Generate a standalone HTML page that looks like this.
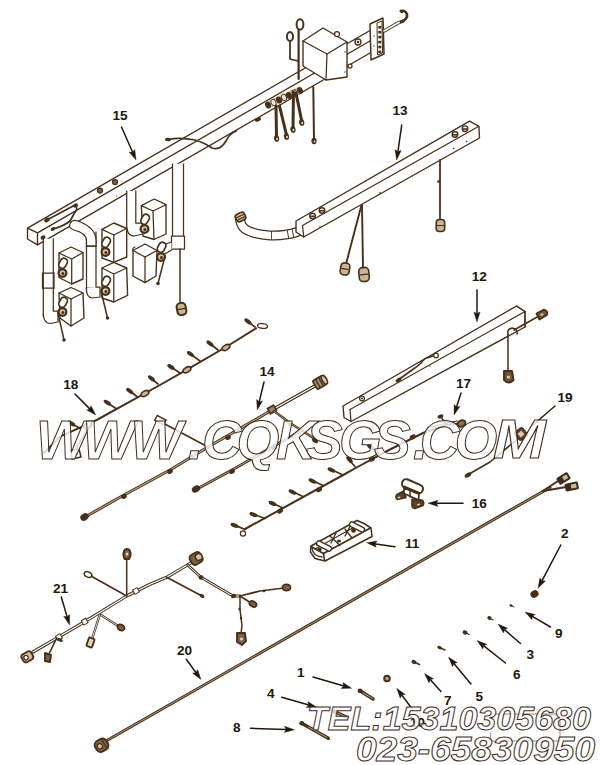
<!DOCTYPE html>
<html><head><meta charset="utf-8"><style>
html,body{margin:0;padding:0;background:#fff;width:600px;height:765px;overflow:hidden}
svg text{font-family:"Liberation Sans",sans-serif}
</style></head><body>
<svg width="600" height="765" viewBox="0 0 600 765" style="position:absolute;left:0;top:0">
<rect width="600" height="765" fill="#fff"/>
<polygon points="27.5,228.1 370,30.5 370,53 37.5,244.9 27.5,239" fill="#fff" stroke="none" stroke-width="0" stroke-linejoin="round"/>
<line x1="27.5" y1="228.1" x2="370" y2="30.5" stroke="#46301a" stroke-width="1.375" stroke-linecap="round"/>
<line x1="37.5" y1="232.9" x2="370" y2="41" stroke="#46301a" stroke-width="1.375" stroke-linecap="round"/>
<line x1="37.5" y1="244.9" x2="370" y2="53" stroke="#46301a" stroke-width="1.375" stroke-linecap="round"/>
<polygon points="27.5,228.1 37.5,232.9 37.5,244.9 27.5,239" fill="#fff" stroke="#46301a" stroke-width="1.375" stroke-linejoin="round"/>
<polygon points="43.3,238.8 53.3,238.8 53.3,316 43.3,316" fill="#fff" stroke="none" stroke-width="0" stroke-linejoin="round"/>
<line x1="43.3" y1="238.8" x2="43.3" y2="316" stroke="#46301a" stroke-width="1.25" stroke-linecap="round"/>
<line x1="53.3" y1="238.8" x2="53.3" y2="316" stroke="#46301a" stroke-width="1.25" stroke-linecap="round"/>
<line x1="42.5" y1="273" x2="54" y2="273" stroke="#46301a" stroke-width="1.25" stroke-linecap="round"/>
<line x1="42.5" y1="288" x2="54" y2="288" stroke="#46301a" stroke-width="1.25" stroke-linecap="round"/>
<line x1="42.5" y1="273" x2="42.5" y2="288" stroke="#46301a" stroke-width="1.25" stroke-linecap="round"/>
<line x1="54" y1="273" x2="54" y2="288" stroke="#46301a" stroke-width="1.25" stroke-linecap="round"/>
<path d="M43.3,314 Q43.5,323 50,323.5 L58,322 L58,311 L53.3,311" fill="#fff" stroke="#46301a" stroke-width="1.25" stroke-linejoin="round" stroke-linecap="round"/>
<polygon points="86.5,232 96,232 96,292 86.5,292" fill="#fff" stroke="none" stroke-width="0" stroke-linejoin="round"/>
<line x1="86.5" y1="232" x2="86.5" y2="292" stroke="#46301a" stroke-width="1.25" stroke-linecap="round"/>
<line x1="96" y1="232" x2="96" y2="292" stroke="#46301a" stroke-width="1.25" stroke-linecap="round"/>
<path d="M70,224 Q72,219 78,221 Q96,228 96,240 L96,246 L86.5,246 L86.5,240 Q86,233 74,230 Q68,228 70,224 Z" fill="#fff" stroke="#46301a" stroke-width="1.25" stroke-linejoin="round" stroke-linecap="round"/>
<line x1="86" y1="246" x2="96.5" y2="246" stroke="#46301a" stroke-width="1.25" stroke-linecap="round"/>
<line x1="86" y1="288" x2="96.5" y2="288" stroke="#46301a" stroke-width="1.25" stroke-linecap="round"/>
<path d="M86.5,288 Q86,297 92,298 L100,297 L100,287 L96,287" fill="#fff" stroke="#46301a" stroke-width="1.25" stroke-linejoin="round" stroke-linecap="round"/>
<polygon points="126.7,190.9 135.8,190.9 135.8,228 126.7,228" fill="#fff" stroke="none" stroke-width="0" stroke-linejoin="round"/>
<line x1="126.7" y1="190.9" x2="126.7" y2="228" stroke="#46301a" stroke-width="1.25" stroke-linecap="round"/>
<line x1="135.8" y1="190.9" x2="135.8" y2="228" stroke="#46301a" stroke-width="1.25" stroke-linecap="round"/>
<path d="M126.7,226 Q127,236 134,236 L143,234 L143,223 L135.8,223" fill="#fff" stroke="#46301a" stroke-width="1.25" stroke-linejoin="round" stroke-linecap="round"/>
<polygon points="172.5,163.8 183.5,163.8 183.5,240 172.5,240" fill="#fff" stroke="none" stroke-width="0" stroke-linejoin="round"/>
<line x1="172.5" y1="163.8" x2="172.5" y2="240" stroke="#46301a" stroke-width="1.25" stroke-linecap="round"/>
<line x1="183.5" y1="163.8" x2="183.5" y2="240" stroke="#46301a" stroke-width="1.25" stroke-linecap="round"/>
<path d="M171.5,236 L184.5,236 L184.5,249 L171.5,249 Z" fill="#fff" stroke="#46301a" stroke-width="1.25" stroke-linejoin="round" stroke-linecap="round"/>
<path d="M171.5,242 L160,246 L160,257 L171.5,250" fill="#fff" stroke="#46301a" stroke-width="1.25" stroke-linejoin="round" stroke-linecap="round"/>
<polygon points="59,253 71,247 83,252.5 83,279 71.7,284 59,277.5" fill="#fff" stroke="#46301a" stroke-width="1.375" stroke-linejoin="round"/>
<polyline points="59,253 71.7,259 83,252.5" fill="none" stroke="#46301a" stroke-width="1.25" stroke-linejoin="round" stroke-linecap="round"/>
<line x1="71.7" y1="259" x2="71.7" y2="284" stroke="#46301a" stroke-width="1.25" stroke-linecap="round"/>
<rect x="59.5" y="258" width="7" height="10.5" rx="3.5" transform="rotate(28 63 263.5)" fill="#fff" stroke="#46301a" stroke-width="1.7"/>
<circle cx="62.5" cy="273" r="3.9" fill="#d6c3a8" stroke="#46301a" stroke-width="2.2"/>
<circle cx="62.9" cy="273.4" r="1.5" fill="#46301a"/>
<polygon points="59,293 71,287.5 83,293 84,318 71,326 60,318" fill="#fff" stroke="#46301a" stroke-width="1.375" stroke-linejoin="round"/>
<polyline points="59,293 71,299 83,293" fill="none" stroke="#46301a" stroke-width="1.25" stroke-linejoin="round" stroke-linecap="round"/>
<line x1="71" y1="299" x2="71" y2="326" stroke="#46301a" stroke-width="1.25" stroke-linecap="round"/>
<rect x="59.5" y="297" width="7" height="10.5" rx="3.5" transform="rotate(28 63 302.5)" fill="#fff" stroke="#46301a" stroke-width="1.7"/>
<circle cx="62.5" cy="312" r="3.9" fill="#d6c3a8" stroke="#46301a" stroke-width="2.2"/>
<circle cx="62.9" cy="312.4" r="1.5" fill="#46301a"/>
<polygon points="141.3,205.6 154.2,199 166,204.7 166,234 154,239.5 143,236" fill="#fff" stroke="#46301a" stroke-width="1.375" stroke-linejoin="round"/>
<polyline points="141.3,205.6 153,211 166,204.7" fill="none" stroke="#46301a" stroke-width="1.25" stroke-linejoin="round" stroke-linecap="round"/>
<line x1="153" y1="211" x2="154" y2="239.5" stroke="#46301a" stroke-width="1.25" stroke-linecap="round"/>
<rect x="141.5" y="214" width="7" height="10.5" rx="3.5" transform="rotate(28 145 219.5)" fill="#fff" stroke="#46301a" stroke-width="1.7"/>
<circle cx="144.5" cy="229" r="3.9" fill="#d6c3a8" stroke="#46301a" stroke-width="2.2"/>
<circle cx="144.9" cy="229.4" r="1.5" fill="#46301a"/>
<polygon points="102,229.4 113.8,223 126.7,228.5 126.7,257 113.8,262.4 102,258" fill="#fff" stroke="#46301a" stroke-width="1.375" stroke-linejoin="round"/>
<polyline points="102,229.4 113.8,235 126.7,228.5" fill="none" stroke="#46301a" stroke-width="1.25" stroke-linejoin="round" stroke-linecap="round"/>
<line x1="113.8" y1="235" x2="113.8" y2="262.4" stroke="#46301a" stroke-width="1.25" stroke-linecap="round"/>
<rect x="102.5" y="237" width="7" height="10.5" rx="3.5" transform="rotate(28 106 242.5)" fill="#fff" stroke="#46301a" stroke-width="1.7"/>
<circle cx="105.5" cy="252" r="3.9" fill="#d6c3a8" stroke="#46301a" stroke-width="2.2"/>
<circle cx="105.9" cy="252.4" r="1.5" fill="#46301a"/>
<polygon points="102,268 113.8,262.4 126.7,268 127.6,295.4 113.8,302 102,298" fill="#fff" stroke="#46301a" stroke-width="1.375" stroke-linejoin="round"/>
<polyline points="102,268 113.8,274 126.7,268" fill="none" stroke="#46301a" stroke-width="1.25" stroke-linejoin="round" stroke-linecap="round"/>
<line x1="113.8" y1="274" x2="113.8" y2="302" stroke="#46301a" stroke-width="1.25" stroke-linecap="round"/>
<rect x="102.5" y="276" width="7" height="10.5" rx="3.5" transform="rotate(28 106 281.5)" fill="#fff" stroke="#46301a" stroke-width="1.7"/>
<circle cx="105.5" cy="291" r="3.9" fill="#d6c3a8" stroke="#46301a" stroke-width="2.2"/>
<circle cx="105.9" cy="291.4" r="1.5" fill="#46301a"/>
<polygon points="133,250.5 145,244 157,250.5 156,276 145,282.6 133,276" fill="#fff" stroke="#46301a" stroke-width="1.375" stroke-linejoin="round"/>
<path d="M133,250.5 Q132,248 135,247" fill="none" stroke="#46301a" stroke-width="1.25" stroke-linejoin="round" stroke-linecap="round"/>
<polyline points="133,250.5 145,257 157,250.5" fill="none" stroke="#46301a" stroke-width="1.25" stroke-linejoin="round" stroke-linecap="round"/>
<line x1="145" y1="257" x2="145" y2="282.6" stroke="#46301a" stroke-width="1.25" stroke-linecap="round"/>
<rect x="158" y="242" width="7" height="10.5" rx="3.5" transform="rotate(28 161.5 247.5)" fill="#fff" stroke="#46301a" stroke-width="1.7"/>
<circle cx="161" cy="257" r="3.9" fill="#d6c3a8" stroke="#46301a" stroke-width="2.2"/>
<circle cx="161.4" cy="257.4" r="1.5" fill="#46301a"/>
<polyline points="58,313 64,340" fill="none" stroke="#46301a" stroke-width="1.5" stroke-linejoin="round" stroke-linecap="round"/>
<ellipse cx="64" cy="340" rx="1.8" ry="1.8" transform="rotate(0 64 340)" fill="#46301a"/>
<polyline points="101,291 107.5,318" fill="none" stroke="#46301a" stroke-width="1.5" stroke-linejoin="round" stroke-linecap="round"/>
<ellipse cx="107.5" cy="318" rx="1.8" ry="1.8" transform="rotate(0 107.5 318)" fill="#46301a"/>
<polyline points="165,256 158,283.5" fill="none" stroke="#46301a" stroke-width="1.5" stroke-linejoin="round" stroke-linecap="round"/>
<ellipse cx="158" cy="283.5" rx="1.8" ry="1.8" transform="rotate(0 158 283.5)" fill="#46301a"/>
<polyline points="180,249 180,303" fill="none" stroke="#46301a" stroke-width="1.5" stroke-linejoin="round" stroke-linecap="round"/>
<g transform="rotate(-10 181.5 309)"><rect x="177" y="303" width="9" height="12" rx="3.5" fill="#c9b497" stroke="#46301a" stroke-width="2"/><line x1="177.8" y1="309" x2="185.2" y2="309" stroke="#46301a" stroke-width="1.1"/></g>
<polygon points="303,41 323,28 347,42 347,77 326,80 303,66" fill="#fff" stroke="#46301a" stroke-width="1.375" stroke-linejoin="round"/>
<polyline points="303,41 327,54 347,42" fill="none" stroke="#46301a" stroke-width="1.25" stroke-linejoin="round" stroke-linecap="round"/>
<line x1="327" y1="54" x2="326" y2="80" stroke="#46301a" stroke-width="1.25" stroke-linecap="round"/>
<circle cx="345" cy="52" r="0.7" fill="#46301a"/>
<circle cx="345" cy="72" r="0.7" fill="#46301a"/>
<circle cx="337" cy="34" r="2.5" fill="#fff" stroke="#46301a" stroke-width="1.25"/>
<polygon points="370,24 383,18 384,54 371,60" fill="#fff" stroke="#46301a" stroke-width="1.5" stroke-linejoin="round"/>
<polygon points="377,23 382,21 382.5,53 377.5,55" fill="#fff" stroke="#46301a" stroke-width="1.0" stroke-linejoin="round"/>
<rect x="378.3" y="26" width="3" height="2.6" fill="#46301a"/>
<rect x="378.3" y="30.9" width="3" height="2.6" fill="#46301a"/>
<rect x="378.3" y="35.8" width="3" height="2.6" fill="#46301a"/>
<rect x="378.3" y="40.8" width="3" height="2.6" fill="#46301a"/>
<rect x="378.3" y="45.7" width="3" height="2.6" fill="#46301a"/>
<rect x="378.3" y="50.6" width="3" height="2.6" fill="#46301a"/>
<circle cx="374" cy="36" r="0.7" fill="#46301a"/>
<circle cx="374" cy="46" r="0.7" fill="#46301a"/>
<polyline points="384,31 398,23 403,21" fill="none" stroke="#46301a" stroke-width="3.4" stroke-linejoin="round" stroke-linecap="round"/>
<polyline points="384,31 398,23 403,21" fill="none" stroke="#fff" stroke-width="1.6" stroke-linejoin="round" stroke-linecap="round"/>
<path d="M401,22 Q408,19 407,14 Q405,10 401,11" fill="none" stroke="#46301a" stroke-width="2.6" stroke-linejoin="round" stroke-linecap="round"/>
<ellipse cx="401.5" cy="11.5" rx="2" ry="1.5" transform="rotate(30 401.5 11.5)" fill="#46301a"/>
<circle cx="358" cy="42" r="3" fill="#fff" stroke="#46301a" stroke-width="1.375"/>
<circle cx="358" cy="42" r="1.2" fill="#46301a"/>
<circle cx="350" cy="66" r="2" fill="#fff" stroke="#46301a" stroke-width="1.25"/>
<line x1="298.6" y1="28" x2="298.6" y2="79" stroke="#46301a" stroke-width="2.2" stroke-linecap="round"/>
<ellipse cx="300" cy="24.5" rx="3.4" ry="5.2" fill="#fff" stroke="#46301a" stroke-width="2"/>
<ellipse cx="290" cy="36.5" rx="3" ry="4.6" fill="#fff" stroke="#46301a" stroke-width="2"/>
<polyline points="290,41 290,59 298,61" fill="none" stroke="#46301a" stroke-width="1.75" stroke-linejoin="round" stroke-linecap="round"/>
<polygon points="265,102 300,86 302,93 267,109" fill="#d9c7ae" stroke="none" stroke-width="0" stroke-linejoin="round"/>
<ellipse cx="268" cy="105" rx="2.8" ry="3.6" transform="rotate(-25 268 105)" fill="#46301a"/>
<ellipse cx="273.5" cy="102.5" rx="2.4" ry="3.2" transform="rotate(-25 273.5 102.5)" fill="#f1e6d6"/>
<ellipse cx="273.5" cy="102.5" rx="2.4" ry="3.2" transform="rotate(-25 273.5 102.5)" fill="none" stroke="#46301a" stroke-width="0.9"/>
<ellipse cx="279" cy="100" rx="2.8" ry="3.6" transform="rotate(-25 279 100)" fill="#46301a"/>
<ellipse cx="284" cy="97.5" rx="2.4" ry="3.2" transform="rotate(-25 284 97.5)" fill="#f1e6d6"/>
<ellipse cx="284" cy="97.5" rx="2.4" ry="3.2" transform="rotate(-25 284 97.5)" fill="none" stroke="#46301a" stroke-width="0.9"/>
<ellipse cx="289" cy="95.5" rx="2.8" ry="3.6" transform="rotate(-25 289 95.5)" fill="#46301a"/>
<ellipse cx="294.5" cy="93" rx="2.4" ry="3.2" transform="rotate(-25 294.5 93)" fill="#f1e6d6"/>
<ellipse cx="294.5" cy="93" rx="2.4" ry="3.2" transform="rotate(-25 294.5 93)" fill="none" stroke="#46301a" stroke-width="0.9"/>
<ellipse cx="300" cy="90.5" rx="2.8" ry="3.6" transform="rotate(-25 300 90.5)" fill="#46301a"/>
<polyline points="276,106 276.5,137" fill="none" stroke="#46301a" stroke-width="3.0" stroke-linejoin="round" stroke-linecap="round"/>
<polyline points="279.5,106 286.5,135" fill="none" stroke="#46301a" stroke-width="3.0" stroke-linejoin="round" stroke-linecap="round"/>
<polyline points="293.5,92 293,128" fill="none" stroke="#46301a" stroke-width="3.0" stroke-linejoin="round" stroke-linecap="round"/>
<polyline points="296,93 301.7,121" fill="none" stroke="#46301a" stroke-width="3.0" stroke-linejoin="round" stroke-linecap="round"/>
<ellipse cx="276.6" cy="138.5" rx="2.6" ry="3.4" transform="rotate(-10 276.6 138.5)" fill="#46301a"/>
<ellipse cx="277.1" cy="139" rx="0.9" ry="1.2" transform="rotate(-10 277.1 139)" fill="#e9dccb"/>
<ellipse cx="286.5" cy="136.5" rx="2.6" ry="3.4" transform="rotate(-10 286.5 136.5)" fill="#46301a"/>
<ellipse cx="287" cy="137" rx="0.9" ry="1.2" transform="rotate(-10 287 137)" fill="#e9dccb"/>
<ellipse cx="293" cy="129.5" rx="2.6" ry="3.4" transform="rotate(-10 293 129.5)" fill="#46301a"/>
<ellipse cx="293.5" cy="130" rx="0.9" ry="1.2" transform="rotate(-10 293.5 130)" fill="#e9dccb"/>
<ellipse cx="301.7" cy="122.5" rx="2.6" ry="3.4" transform="rotate(-10 301.7 122.5)" fill="#46301a"/>
<ellipse cx="302.2" cy="123" rx="0.9" ry="1.2" transform="rotate(-10 302.2 123)" fill="#e9dccb"/>
<line x1="313.3" y1="87" x2="314" y2="140" stroke="#46301a" stroke-width="2.0" stroke-linecap="round"/>
<ellipse cx="314" cy="141" rx="2.6" ry="3.2" transform="rotate(0 314 141)" fill="#46301a"/>
<ellipse cx="314.5" cy="141.5" rx="0.9" ry="1.1" transform="rotate(0 314.5 141.5)" fill="#e9dccb"/>
<ellipse cx="258" cy="119.5" rx="3.2" ry="1.8" transform="rotate(-25 258 119.5)" fill="#46301a"/>
<path d="M168,139.5 Q180,137 195,140 Q205,143 212,148 Q220,151 226,141 Q229,134 236,131" fill="none" stroke="#46301a" stroke-width="1.75" stroke-linejoin="round" stroke-linecap="round"/>
<ellipse cx="168" cy="139.5" rx="3" ry="1.8" transform="rotate(5 168 139.5)" fill="#46301a"/>
<circle cx="100" cy="190.5" r="2.5" fill="#7a6248" stroke="#46301a" stroke-width="1.25"/>
<circle cx="115" cy="182" r="2.5" fill="#7a6248" stroke="#46301a" stroke-width="1.25"/>
<circle cx="116.7" cy="196" r="0.6" fill="#46301a"/>
<path d="M47,220 L75,205 Q79,208 74,214 L70,221 Q64,226 53,229" fill="none" stroke="#46301a" stroke-width="1.75" stroke-linejoin="round" stroke-linecap="round"/>
<ellipse cx="47" cy="220" rx="3" ry="2" transform="rotate(-28 47 220)" fill="#46301a"/>
<ellipse cx="75.5" cy="205.5" rx="2.6" ry="2" transform="rotate(-28 75.5 205.5)" fill="#46301a"/>
<ellipse cx="53" cy="229" rx="2.4" ry="1.8" transform="rotate(-28 53 229)" fill="#46301a"/>
<ellipse cx="43" cy="237.5" rx="2.6" ry="2" transform="rotate(-28 43 237.5)" fill="#46301a"/>
<path d="M297,232 Q285,236 270,235.5 Q252,234 245,229 Q240,225 240,218" fill="none" stroke="#46301a" stroke-width="10" stroke-linejoin="round" stroke-linecap="round"/>
<path d="M297,232 Q285,236 270,235.5 Q252,234 245,229 Q240,225 240,218" fill="none" stroke="#fff" stroke-width="7.6" stroke-linejoin="round" stroke-linecap="round"/>
<line x1="288" y1="230.3" x2="288" y2="238.7" stroke="#46301a" stroke-width="0.9" transform="rotate(-10 288 234.5)"/>
<line x1="271.5" y1="231.3" x2="271.5" y2="239.7" stroke="#46301a" stroke-width="0.9" transform="rotate(0 271.5 235.5)"/>
<line x1="293" y1="229.3" x2="293" y2="237.7" stroke="#46301a" stroke-width="0.9" transform="rotate(-10 293 233.5)"/>
<g transform="rotate(-25 240.5 217)"><rect x="235.5" y="213" width="10" height="8" rx="3" fill="#cdb89c" stroke="#46301a" stroke-width="1.6"/><line x1="236" y1="216" x2="245" y2="216" stroke="#46301a" stroke-width="1.2"/><line x1="236" y1="218.5" x2="245" y2="218.5" stroke="#46301a" stroke-width="1.2"/></g>
<polygon points="296,221 469.6,121.1 478.9,126.3 479.5,138 303.7,237 296,232" fill="#fff" stroke="#46301a" stroke-width="1.375" stroke-linejoin="round"/>
<line x1="302.5" y1="225.5" x2="478.9" y2="126.3" stroke="#46301a" stroke-width="1.25" stroke-linecap="round"/>
<line x1="302.5" y1="225.5" x2="303.7" y2="237" stroke="#46301a" stroke-width="1.25" stroke-linecap="round"/>
<circle cx="312.5" cy="216" r="2.8" fill="#fff" stroke="#46301a" stroke-width="1.375"/>
<path d="M310.3,216.3 h4.4" stroke="#46301a" stroke-width="1.6"/>
<circle cx="322" cy="210.5" r="2.8" fill="#fff" stroke="#46301a" stroke-width="1.375"/>
<path d="M319.8,210.8 h4.4" stroke="#46301a" stroke-width="1.6"/>
<circle cx="455" cy="134.5" r="2.8" fill="#fff" stroke="#46301a" stroke-width="1.375"/>
<path d="M452.8,134.8 h4.4" stroke="#46301a" stroke-width="1.6"/>
<circle cx="465" cy="128.7" r="2.8" fill="#fff" stroke="#46301a" stroke-width="1.375"/>
<path d="M462.8,129 h4.4" stroke="#46301a" stroke-width="1.6"/>
<circle cx="453.8" cy="148.5" r="0.8" fill="#46301a"/>
<circle cx="466.7" cy="141.5" r="0.8" fill="#46301a"/>
<circle cx="380" cy="192.7" r="0.8" fill="#46301a"/>
<circle cx="320" cy="227" r="0.8" fill="#46301a"/>
<polyline points="440,160 440,220" fill="none" stroke="#46301a" stroke-width="1.8" stroke-linejoin="round" stroke-linecap="round"/>
<ellipse cx="439" cy="181.5" rx="1.8" ry="1.3" transform="rotate(0 439 181.5)" fill="#46301a"/>
<g transform="rotate(0 440.5 225.5)"><rect x="436.2" y="219.5" width="8.5" height="12" rx="3.3" fill="#c9b497" stroke="#46301a" stroke-width="1.6"/><line x1="437.1" y1="225.5" x2="443.9" y2="225.5" stroke="#46301a" stroke-width="1.1"/></g>
<polyline points="361.5,205 346,264" fill="none" stroke="#46301a" stroke-width="1.9" stroke-linejoin="round" stroke-linecap="round"/>
<polyline points="362,205 363,268" fill="none" stroke="#46301a" stroke-width="1.9" stroke-linejoin="round" stroke-linecap="round"/>
<g transform="rotate(10 345 269)"><rect x="340.5" y="263" width="9" height="12" rx="3.5" fill="#c9b497" stroke="#46301a" stroke-width="1.6"/><line x1="341.3" y1="269" x2="348.7" y2="269" stroke="#46301a" stroke-width="1.1"/></g>
<g transform="rotate(-5 364 274.5)"><rect x="359" y="267.5" width="10" height="14" rx="3.8" fill="#c9b497" stroke="#46301a" stroke-width="1.6"/><line x1="359.8" y1="274.5" x2="368.2" y2="274.5" stroke="#46301a" stroke-width="1.1"/></g>
<polygon points="343,406 516.5,306 525,311.5 525,327 351,421.5 344,417.5" fill="#fff" stroke="#46301a" stroke-width="1.375" stroke-linejoin="round"/>
<line x1="350" y1="409.5" x2="525" y2="311.5" stroke="#46301a" stroke-width="1.25" stroke-linecap="round"/>
<line x1="350" y1="409.5" x2="351" y2="421.5" stroke="#46301a" stroke-width="1.25" stroke-linecap="round"/>
<line x1="516.5" y1="306" x2="525" y2="311.5" stroke="#46301a" stroke-width="1.25" stroke-linecap="round"/>
<line x1="525" y1="311.5" x2="525" y2="327" stroke="#46301a" stroke-width="1.25" stroke-linecap="round"/>
<circle cx="362" cy="398.5" r="2.4" fill="#fff" stroke="#46301a" stroke-width="1.25"/>
<circle cx="362" cy="398.5" r="1" fill="#46301a"/>
<path d="M398,380 L412,370 Q418,366 421,363 Q424,358 430,357 L436,355" fill="none" stroke="#46301a" stroke-width="1.75" stroke-linejoin="round" stroke-linecap="round"/>
<ellipse cx="398.5" cy="380" rx="3.2" ry="1.8" transform="rotate(-35 398.5 380)" fill="#46301a"/>
<circle cx="436" cy="355.5" r="2.3" fill="#fff" stroke="#46301a" stroke-width="1.25"/>
<circle cx="430" cy="366" r="0.7" fill="#46301a"/>
<path d="M508,334 Q507,329 512,328 Q518,329 517,334" fill="none" stroke="#46301a" stroke-width="1.5" stroke-linejoin="round" stroke-linecap="round"/>
<line x1="514" y1="330" x2="539" y2="316" stroke="#46301a" stroke-width="1.625" stroke-linecap="round"/>
<path d="M536.5,313.5 L544,309.5 Q548.5,311 547,315 L539.5,319.5 Z" fill="#6e5538" stroke="#46301a" stroke-width="1.8" stroke-linejoin="round" stroke-linecap="round"/>
<ellipse cx="542" cy="314.5" rx="1.6" ry="1.1" transform="rotate(-30 542 314.5)" fill="#d9c7ae"/>
<line x1="508" y1="334" x2="508" y2="372" stroke="#46301a" stroke-width="1.5" stroke-linecap="round"/>
<path d="M504,371 L512,371 L513.5,380 Q509,385 504,380 Z" fill="#6e5538" stroke="#46301a" stroke-width="1.9" stroke-linejoin="round" stroke-linecap="round"/>
<ellipse cx="508.5" cy="377" rx="1.8" ry="1.6" transform="rotate(0 508.5 377)" fill="#d9c7ae"/>
<polyline points="256,328.4 226,347 187,369.6 160,385 96.7,420 60,436.7 44,453" fill="none" stroke="#46301a" stroke-width="2.0" stroke-linejoin="round" stroke-linecap="round"/>
<ellipse cx="262.5" cy="326" rx="5" ry="2.3" transform="rotate(8 262.5 326)" fill="#fff" stroke="#46301a" stroke-width="1.3"/>
<line x1="246.4" y1="320.4" x2="255" y2="327" stroke="#46301a" stroke-width="1.7" stroke-linecap="round"/>
<ellipse cx="247.9" cy="321.4" rx="4.2" ry="2" transform="rotate(37.5 247.9 321.4)" fill="#46301a"/>
<line x1="208.5" y1="342.5" x2="218" y2="350" stroke="#46301a" stroke-width="1.7" stroke-linecap="round"/>
<ellipse cx="210" cy="343.5" rx="4.2" ry="2" transform="rotate(38.3 210 343.5)" fill="#46301a"/>
<line x1="189" y1="353" x2="200" y2="361" stroke="#46301a" stroke-width="1.7" stroke-linecap="round"/>
<ellipse cx="190.5" cy="354" rx="4.2" ry="2" transform="rotate(36 190.5 354)" fill="#46301a"/>
<line x1="169.5" y1="366" x2="180" y2="373" stroke="#46301a" stroke-width="1.7" stroke-linecap="round"/>
<ellipse cx="171" cy="367" rx="4.2" ry="2" transform="rotate(33.7 171 367)" fill="#46301a"/>
<line x1="150" y1="377.5" x2="158" y2="384" stroke="#46301a" stroke-width="1.7" stroke-linecap="round"/>
<ellipse cx="151.5" cy="378.5" rx="4.2" ry="2" transform="rotate(39.1 151.5 378.5)" fill="#46301a"/>
<line x1="128.3" y1="390" x2="137" y2="396.5" stroke="#46301a" stroke-width="1.7" stroke-linecap="round"/>
<ellipse cx="129.8" cy="391" rx="4.2" ry="2" transform="rotate(36.8 129.8 391)" fill="#46301a"/>
<line x1="105.8" y1="401.7" x2="116" y2="408.5" stroke="#46301a" stroke-width="1.7" stroke-linecap="round"/>
<ellipse cx="107.3" cy="402.7" rx="4.2" ry="2" transform="rotate(33.7 107.3 402.7)" fill="#46301a"/>
<line x1="70" y1="422.5" x2="80" y2="428.5" stroke="#46301a" stroke-width="1.7" stroke-linecap="round"/>
<ellipse cx="71.5" cy="423.5" rx="4.2" ry="2" transform="rotate(31 71.5 423.5)" fill="#46301a"/>
<ellipse cx="226" cy="347.5" rx="4.2" ry="2.4" transform="rotate(-30 226 347.5)" fill="#c8b49a" stroke="#46301a" stroke-width="1.6"/>
<ellipse cx="187" cy="369.8" rx="4.2" ry="2.4" transform="rotate(-30 187 369.8)" fill="#c8b49a" stroke="#46301a" stroke-width="1.6"/>
<ellipse cx="145" cy="393.5" rx="4.2" ry="2.4" transform="rotate(-30 145 393.5)" fill="#c8b49a" stroke="#46301a" stroke-width="1.6"/>
<ellipse cx="88" cy="425.5" rx="4.2" ry="2.4" transform="rotate(-30 88 425.5)" fill="#c8b49a" stroke="#46301a" stroke-width="1.6"/>
<polyline points="75,450 88.7,428" fill="none" stroke="#46301a" stroke-width="1.5" stroke-linejoin="round" stroke-linecap="round"/>
<path d="M71,450 L79,449 L81,457 L72,459 Z" fill="#fff" stroke="#46301a" stroke-width="1.5" stroke-linejoin="round" stroke-linecap="round"/>
<circle cx="76" cy="454" r="1.3" fill="#46301a"/>
<polyline points="314.7,386 272,410 208,447 170,470 124,495 86,516.5" fill="none" stroke="#46301a" stroke-width="3.0" stroke-linejoin="round" stroke-linecap="round"/>
<polyline points="314.7,386 272,410 208,447 170,470 124,495 86,516.5" fill="none" stroke="#b9a283" stroke-width="1.1" stroke-linejoin="round" stroke-linecap="round"/>
<polyline points="314.7,386 272,410" fill="none" stroke="#46301a" stroke-width="3.2" stroke-linejoin="round" stroke-linecap="round"/>
<polyline points="314.7,386 272,410" fill="none" stroke="#fff" stroke-width="1.2" stroke-linejoin="round" stroke-linecap="round"/>
<g transform="rotate(-30 320.5 382)"><rect x="314" y="377" width="11" height="10" rx="2" fill="#a48a6a" stroke="#46301a" stroke-width="1.8"/><line x1="317.5" y1="377.5" x2="317.5" y2="386.5" stroke="#46301a" stroke-width="1.2"/><line x1="321" y1="377.5" x2="321" y2="386.5" stroke="#46301a" stroke-width="1.2"/><ellipse cx="325" cy="382" rx="2.2" ry="4.8" fill="#d9c7ae" stroke="#46301a" stroke-width="1.6"/></g>
<ellipse cx="84.5" cy="517" rx="4.4" ry="3.4" transform="rotate(-30 84.5 517)" fill="#46301a"/>
<ellipse cx="228" cy="437.5" rx="3" ry="2.2" transform="rotate(-30 228 437.5)" fill="#46301a"/>
<ellipse cx="170" cy="471.5" rx="3" ry="2.2" transform="rotate(-30 170 471.5)" fill="#46301a"/>
<ellipse cx="124" cy="496.5" rx="3" ry="2.2" transform="rotate(-30 124 496.5)" fill="#46301a"/>
<rect x="268.5" y="406.5" width="7" height="6" transform="rotate(-30 272 409.5)" fill="#9c8262" stroke="#46301a" stroke-width="1.6"/>
<polyline points="274,411 290,423 315,439" fill="none" stroke="#46301a" stroke-width="2.4" stroke-linejoin="round" stroke-linecap="round"/>
<polyline points="274,411 290,423 315,439" fill="none" stroke="#b9a283" stroke-width="0.8" stroke-linejoin="round" stroke-linecap="round"/>
<ellipse cx="315" cy="440.5" rx="3.4" ry="2.2" transform="rotate(35 315 440.5)" fill="#46301a"/>
<ellipse cx="289" cy="424" rx="2" ry="1.4" transform="rotate(35 289 424)" fill="#46301a"/>
<polyline points="301,431 274,446 232,470 197,489" fill="none" stroke="#46301a" stroke-width="2.8" stroke-linejoin="round" stroke-linecap="round"/>
<polyline points="301,431 274,446 232,470 197,489" fill="none" stroke="#b9a283" stroke-width="1.0" stroke-linejoin="round" stroke-linecap="round"/>
<ellipse cx="196" cy="489" rx="4.4" ry="3.2" transform="rotate(-30 196 489)" fill="#46301a"/>
<ellipse cx="274" cy="447.5" rx="3" ry="2.2" transform="rotate(-30 274 447.5)" fill="#46301a"/>
<ellipse cx="232" cy="471.5" rx="3" ry="2.2" transform="rotate(-30 232 471.5)" fill="#46301a"/>
<polyline points="163,423 208,447" fill="none" stroke="#46301a" stroke-width="1.625" stroke-linejoin="round" stroke-linecap="round"/>
<rect x="155.5" y="417.5" width="10" height="5.5" transform="rotate(28 160.5 420)" fill="#fff" stroke="#46301a" stroke-width="1.4"/>
<polyline points="245,529 345,474 355.7,468 388,450.5 423,433 446.7,424.8 460,423.5" fill="none" stroke="#46301a" stroke-width="2.0" stroke-linejoin="round" stroke-linecap="round"/>
<polyline points="428,428 446,423 457,421" fill="none" stroke="#46301a" stroke-width="1.25" stroke-linejoin="round" stroke-linecap="round"/>
<circle cx="243" cy="533.5" r="2.6" fill="#fff" stroke="#46301a" stroke-width="1.2"/>
<line x1="233" y1="524.4" x2="245" y2="529.5" stroke="#46301a" stroke-width="1.7" stroke-linecap="round"/>
<ellipse cx="234.5" cy="525.4" rx="4.2" ry="2" transform="rotate(23 234.5 525.4)" fill="#46301a"/>
<line x1="252" y1="513.6" x2="265" y2="518.5" stroke="#46301a" stroke-width="1.7" stroke-linecap="round"/>
<ellipse cx="253.5" cy="514.6" rx="4.2" ry="2" transform="rotate(20.7 253.5 514.6)" fill="#46301a"/>
<line x1="271" y1="502.4" x2="283" y2="508" stroke="#46301a" stroke-width="1.7" stroke-linecap="round"/>
<ellipse cx="272.5" cy="503.4" rx="4.2" ry="2" transform="rotate(25 272.5 503.4)" fill="#46301a"/>
<line x1="291" y1="491" x2="303" y2="496.5" stroke="#46301a" stroke-width="1.7" stroke-linecap="round"/>
<ellipse cx="292.5" cy="492" rx="4.2" ry="2" transform="rotate(24.6 292.5 492)" fill="#46301a"/>
<line x1="311" y1="480" x2="323" y2="485.5" stroke="#46301a" stroke-width="1.7" stroke-linecap="round"/>
<ellipse cx="312.5" cy="481" rx="4.2" ry="2" transform="rotate(24.6 312.5 481)" fill="#46301a"/>
<line x1="330" y1="469" x2="343" y2="475" stroke="#46301a" stroke-width="1.7" stroke-linecap="round"/>
<ellipse cx="331.5" cy="470" rx="4.2" ry="2" transform="rotate(24.8 331.5 470)" fill="#46301a"/>
<line x1="348" y1="458.7" x2="355" y2="466.5" stroke="#46301a" stroke-width="1.7" stroke-linecap="round"/>
<ellipse cx="349.5" cy="459.7" rx="4.2" ry="2" transform="rotate(48.1 349.5 459.7)" fill="#46301a"/>
<line x1="369" y1="446" x2="379" y2="454" stroke="#46301a" stroke-width="1.7" stroke-linecap="round"/>
<ellipse cx="370.5" cy="447" rx="4.2" ry="2" transform="rotate(38.7 370.5 447)" fill="#46301a"/>
<ellipse cx="280" cy="511" rx="3.2" ry="2.4" transform="rotate(-30 280 511)" fill="#46301a"/>
<ellipse cx="319" cy="489.5" rx="3.2" ry="2.4" transform="rotate(-30 319 489.5)" fill="#46301a"/>
<ellipse cx="372" cy="459" rx="3.2" ry="2.4" transform="rotate(-30 372 459)" fill="#46301a"/>
<ellipse cx="412.8" cy="437" rx="3.2" ry="2.4" transform="rotate(-30 412.8 437)" fill="#46301a"/>
<polyline points="440.8,416.7 446.7,424.8" fill="none" stroke="#46301a" stroke-width="1.5" stroke-linejoin="round" stroke-linecap="round"/>
<ellipse cx="440.5" cy="416.5" rx="3" ry="1.9" transform="rotate(-20 440.5 416.5)" fill="#46301a"/>
<ellipse cx="461.5" cy="423.5" rx="4" ry="3" transform="rotate(-20 461.5 423.5)" fill="#8c7356" stroke="#46301a" stroke-width="2"/>
<polyline points="467.5,475 490,462 520,437" fill="none" stroke="#46301a" stroke-width="1.625" stroke-linejoin="round" stroke-linecap="round"/>
<ellipse cx="468" cy="475" rx="3.6" ry="2" transform="rotate(-30 468 475)" fill="#46301a"/>
<g transform="rotate(-40 521 434)"><rect x="516" y="429" width="10" height="10" rx="2" fill="#5a4128" stroke="#46301a" stroke-width="1.4"/><rect x="518.5" y="431.5" width="5" height="5" fill="#d9c7ae"/></g>
<line x1="555" y1="406" x2="533" y2="425" stroke="#22170c" stroke-width="1.375" stroke-linecap="round"/>
<polyline points="106,741 550,487.5" fill="none" stroke="#46301a" stroke-width="3.0" stroke-linejoin="round" stroke-linecap="round"/>
<polyline points="106,741 550,487.5" fill="none" stroke="#b9a283" stroke-width="0.9" stroke-linejoin="round" stroke-linecap="round"/>
<polyline points="543,491 558,481" fill="none" stroke="#46301a" stroke-width="2.0" stroke-linejoin="round" stroke-linecap="round"/>
<polyline points="543,491 566,487" fill="none" stroke="#46301a" stroke-width="2.0" stroke-linejoin="round" stroke-linecap="round"/>
<g transform="rotate(-32 563.5 478.5)"><rect x="557" y="474.5" width="13" height="8" rx="1.5" fill="#3e2a16"/><rect x="563" y="476.5" width="5" height="4" fill="#cdb99e"/></g>
<g transform="rotate(-12 571.5 486.5)"><rect x="565" y="482.5" width="13.5" height="8" rx="1.5" fill="#3e2a16"/><rect x="571" y="484.5" width="5.5" height="4" fill="#cdb99e"/></g>
<g transform="rotate(-30 102 745)"><rect x="95" y="739" width="13" height="12" rx="4.5" fill="#7a6044" stroke="#46301a" stroke-width="1.8"/><line x1="104.5" y1="739.5" x2="104.5" y2="750.5" stroke="#46301a" stroke-width="1.4"/><circle cx="99.5" cy="745" r="2.6" fill="#d6c3a8" stroke="#46301a" stroke-width="1.2"/></g>
<path d="M404,491 L397,494.5 Q394.5,497.5 397.5,499.5 L406,497.5 Z" fill="#5a4128" stroke="#46301a" stroke-width="1.6" stroke-linejoin="round" stroke-linecap="round"/>
<path d="M412,499 L421.5,500 Q425,502 423,505.5 L415,508.5 Q411.5,508.5 412,504 Z" fill="#5a4128" stroke="#46301a" stroke-width="1.6" stroke-linejoin="round" stroke-linecap="round"/>
<ellipse cx="399" cy="497.5" rx="1.6" ry="0.8" transform="rotate(-20 399 497.5)" fill="#e2d3bd"/>
<ellipse cx="418.5" cy="504.5" rx="1.8" ry="0.9" transform="rotate(-20 418.5 504.5)" fill="#e2d3bd"/>
<polygon points="404,488 419,494 418.5,500 404,493.5" fill="#fff" stroke="#46301a" stroke-width="1.7" stroke-linejoin="round"/>
<line x1="410" y1="491" x2="410" y2="497" stroke="#46301a" stroke-width="1.5" stroke-linecap="round"/>
<rect x="401.5" y="482" width="22" height="8.5" rx="4" transform="rotate(24 412.5 486.2)" fill="#fff" stroke="#46301a" stroke-width="2"/>
<line x1="404.5" y1="486.5" x2="420" y2="493" stroke="#46301a" stroke-width="1.5" stroke-linecap="round"/>
<polygon points="311,546 357,520.5 364,523.5 371,528 372,536.5 325,561 315,558.5 310.5,552" fill="#fff" stroke="#46301a" stroke-width="1.5" stroke-linejoin="round"/>
<polyline points="311,546.5 323.5,553.5 370.5,528" fill="none" stroke="#46301a" stroke-width="1.75" stroke-linejoin="round" stroke-linecap="round"/>
<line x1="323.5" y1="553.5" x2="324.5" y2="560.5" stroke="#46301a" stroke-width="1.625" stroke-linecap="round"/>
<path d="M312,548 Q313,556 322,557" fill="none" stroke="#46301a" stroke-width="1.375" stroke-linejoin="round" stroke-linecap="round"/>
<line x1="315" y1="549" x2="358" y2="525" stroke="#46301a" stroke-width="1.25" stroke-linecap="round"/>
<rect x="316" y="543.6" width="16" height="4.8" rx="2" transform="rotate(27 324 546)" fill="#fff" stroke="#46301a" stroke-width="1.4"/>
<rect x="349" y="524.6" width="16" height="4.8" rx="2" transform="rotate(27 357 527)" fill="#fff" stroke="#46301a" stroke-width="1.4"/>
<line x1="330" y1="536" x2="340" y2="545.5" stroke="#46301a" stroke-width="1.375" stroke-linecap="round"/>
<line x1="336" y1="533" x2="331" y2="543" stroke="#46301a" stroke-width="1.375" stroke-linecap="round"/>
<line x1="345" y1="529" x2="352" y2="538" stroke="#46301a" stroke-width="1.375" stroke-linecap="round"/>
<line x1="350" y1="526.5" x2="345" y2="536" stroke="#46301a" stroke-width="1.375" stroke-linecap="round"/>
<ellipse cx="319.5" cy="549.5" rx="2.2" ry="2" transform="rotate(0 319.5 549.5)" fill="#46301a"/>
<ellipse cx="339" cy="541" rx="2" ry="1.6" transform="rotate(0 339 541)" fill="#46301a"/>
<ellipse cx="353.5" cy="530.5" rx="2.4" ry="2.2" transform="rotate(0 353.5 530.5)" fill="#46301a"/>
<polyline points="33,652 59,636.8 84.7,621.7 126.7,596 150,584.3 166.7,577.3 190.7,563" fill="none" stroke="#46301a" stroke-width="3.2" stroke-linejoin="round" stroke-linecap="round"/>
<polyline points="33,652 59,636.8 84.7,621.7 126.7,596 150,584.3 166.7,577.3 190.7,563" fill="none" stroke="#fff" stroke-width="1.2" stroke-linejoin="round" stroke-linecap="round"/>
<g transform="rotate(-30 28 657)"><rect x="22" y="652" width="11" height="9" rx="3" fill="#cdb99e" stroke="#46301a" stroke-width="1.8"/><circle cx="26" cy="656.5" r="2.2" fill="#fff" stroke="#46301a" stroke-width="1.2"/></g>
<g transform="rotate(-30 197 558)"><rect x="190" y="552.5" width="12" height="11" rx="3.5" fill="#7a6044" stroke="#46301a" stroke-width="1.8"/><circle cx="199" cy="558" r="3.4" fill="#d6c3a8" stroke="#46301a" stroke-width="1.4"/></g>
<rect x="56.5" y="634.5" width="5" height="5" transform="rotate(-30 59 637)" fill="#fff" stroke="#46301a" stroke-width="1"/>
<rect x="82.2" y="619.2" width="5" height="5" transform="rotate(-30 84.7 621.7)" fill="#fff" stroke="#46301a" stroke-width="1"/>
<rect x="133.5" y="588.5" width="5" height="5" transform="rotate(-30 136 591)" fill="#fff" stroke="#46301a" stroke-width="1"/>
<polyline points="56.7,638 48.5,655" fill="none" stroke="#46301a" stroke-width="1.625" stroke-linejoin="round" stroke-linecap="round"/>
<path d="M45,653 L51,655 L50,662 L45,661 Z" fill="#7a6044" stroke="#46301a" stroke-width="1.9" stroke-linejoin="round" stroke-linecap="round"/>
<ellipse cx="60" cy="640" rx="3" ry="1.6" transform="rotate(20 60 640)" fill="#46301a"/>
<polyline points="99.8,614.7 91.7,640" fill="none" stroke="#46301a" stroke-width="2.4" stroke-linejoin="round" stroke-linecap="round"/>
<polyline points="99.8,614.7 91.7,640" fill="none" stroke="#fff" stroke-width="0.8" stroke-linejoin="round" stroke-linecap="round"/>
<rect x="87.5" y="638" width="6" height="9" rx="1.2" transform="rotate(20 90.5 642.5)" fill="#e2d3bd" stroke="#46301a" stroke-width="1.8"/>
<polyline points="101,615 119,626.5" fill="none" stroke="#46301a" stroke-width="2.2" stroke-linejoin="round" stroke-linecap="round"/>
<polyline points="101,615 119,626.5" fill="none" stroke="#fff" stroke-width="0.8" stroke-linejoin="round" stroke-linecap="round"/>
<ellipse cx="121" cy="627.5" rx="3.8" ry="2.8" transform="rotate(30 121 627.5)" fill="#7a6044" stroke="#46301a" stroke-width="1.8"/>
<polyline points="126.7,596 126.7,557" fill="none" stroke="#46301a" stroke-width="1.5" stroke-linejoin="round" stroke-linecap="round"/>
<path d="M123.5,556 Q123,549 127,549 Q131,549 130.5,556 L129,559 L124.5,559 Z" fill="#7a6044" stroke="#46301a" stroke-width="1.9" stroke-linejoin="round" stroke-linecap="round"/>
<ellipse cx="127" cy="554" rx="1.3" ry="1.5" transform="rotate(0 127 554)" fill="#e2d3bd"/>
<polyline points="126.7,596 91,576" fill="none" stroke="#46301a" stroke-width="1.625" stroke-linejoin="round" stroke-linecap="round"/>
<ellipse cx="88" cy="574.5" rx="4" ry="2.6" transform="rotate(25 88 574.5)" fill="#fff" stroke="#46301a" stroke-width="1.5"/>
<polyline points="166.7,577.3 201,595.5" fill="none" stroke="#46301a" stroke-width="1.75" stroke-linejoin="round" stroke-linecap="round"/>
<ellipse cx="202" cy="596" rx="2.6" ry="1.8" transform="rotate(30 202 596)" fill="#46301a"/>
<polyline points="188,565.3 201,577.3 233,596 240,596" fill="none" stroke="#46301a" stroke-width="2.8" stroke-linejoin="round" stroke-linecap="round"/>
<polyline points="188,565.3 201,577.3 233,596 240,596" fill="none" stroke="#fff" stroke-width="1.0" stroke-linejoin="round" stroke-linecap="round"/>
<ellipse cx="201" cy="577.5" rx="2.5" ry="2" transform="rotate(-20 201 577.5)" fill="#46301a"/>
<ellipse cx="233.5" cy="596" rx="2.6" ry="2" transform="rotate(-20 233.5 596)" fill="#46301a"/>
<polyline points="240,596 260,591 284,588" fill="none" stroke="#46301a" stroke-width="1.75" stroke-linejoin="round" stroke-linecap="round"/>
<ellipse cx="286.5" cy="587.5" rx="4" ry="3.2" fill="#7a6044" stroke="#46301a" stroke-width="1.8"/>
<ellipse cx="264" cy="591" rx="1.4" ry="1.2" transform="rotate(0 264 591)" fill="#46301a"/>
<polyline points="240,596 251,603" fill="none" stroke="#46301a" stroke-width="1.75" stroke-linejoin="round" stroke-linecap="round"/>
<ellipse cx="253" cy="604" rx="3.8" ry="2.6" transform="rotate(30 253 604)" fill="#7a6044" stroke="#46301a" stroke-width="1.8"/>
<polyline points="240,596 240,610 242,625 241,634" fill="none" stroke="#46301a" stroke-width="1.5" stroke-linejoin="round" stroke-linecap="round"/>
<ellipse cx="239.5" cy="609" rx="1.2" ry="1.5" transform="rotate(0 239.5 609)" fill="#46301a"/>
<ellipse cx="241" cy="618" rx="1.2" ry="1.5" transform="rotate(0 241 618)" fill="#46301a"/>
<path d="M237,633 L245,633 L246,641 L242,645 L237,642 Z" fill="#7a6044" stroke="#46301a" stroke-width="1.9" stroke-linejoin="round" stroke-linecap="round"/>
<ellipse cx="241.5" cy="639" rx="1.6" ry="1.6" transform="rotate(0 241.5 639)" fill="#e2d3bd"/>
<ellipse cx="534.5" cy="594" rx="4.2" ry="3.6" transform="rotate(-30 534.5 594)" fill="#46301a"/>
<ellipse cx="511" cy="605.5" rx="1.6" ry="1.2" transform="rotate(20 511 605.5)" fill="#46301a"/>
<line x1="511" y1="605.5" x2="514" y2="607" stroke="#46301a" stroke-width="1.0" stroke-linecap="round"/>
<ellipse cx="489.5" cy="618" rx="2.2" ry="1.8" transform="rotate(20 489.5 618)" fill="#46301a"/>
<line x1="490" y1="618.5" x2="493" y2="620" stroke="#46301a" stroke-width="1.125" stroke-linecap="round"/>
<ellipse cx="465" cy="632.5" rx="2.5" ry="2" transform="rotate(20 465 632.5)" fill="#46301a"/>
<line x1="465" y1="632.5" x2="469" y2="634.5" stroke="#46301a" stroke-width="1.25" stroke-linecap="round"/>
<ellipse cx="439.5" cy="647.5" rx="2.4" ry="1.6" transform="rotate(25 439.5 647.5)" fill="#46301a"/>
<line x1="440" y1="648" x2="445" y2="650" stroke="#46301a" stroke-width="1.5" stroke-linecap="round"/>
<ellipse cx="414" cy="662" rx="2.6" ry="2" transform="rotate(25 414 662)" fill="#46301a"/>
<line x1="414" y1="662" x2="419.5" y2="664.5" stroke="#46301a" stroke-width="1.8" stroke-linecap="round"/>
<circle cx="387" cy="678.5" r="2.8" fill="#bba68a" stroke="#46301a" stroke-width="2"/>
<polyline points="360,690.7 373,699" fill="none" stroke="#46301a" stroke-width="3.4" stroke-linejoin="round" stroke-linecap="round"/>
<polyline points="363.2,692.8 372.4,698.6" fill="none" stroke="#b9a487" stroke-width="1.0" stroke-linejoin="round" stroke-linecap="round"/>
<ellipse cx="360" cy="690.7" rx="2.4" ry="2.2" transform="rotate(0 360 690.7)" fill="#46301a"/>
<polyline points="335,711.7 346.7,717.3" fill="none" stroke="#46301a" stroke-width="3.4" stroke-linejoin="round" stroke-linecap="round"/>
<polyline points="337.9,713.1 346.1,717" fill="none" stroke="#b9a487" stroke-width="1.0" stroke-linejoin="round" stroke-linecap="round"/>
<ellipse cx="335" cy="711.7" rx="2.4" ry="2.2" transform="rotate(0 335 711.7)" fill="#46301a"/>
<polyline points="301.7,723.3 328.3,738.3" fill="none" stroke="#46301a" stroke-width="3.4" stroke-linejoin="round" stroke-linecap="round"/>
<polyline points="308.4,727 327,737.5" fill="none" stroke="#b9a487" stroke-width="1.0" stroke-linejoin="round" stroke-linecap="round"/>
<ellipse cx="301.7" cy="723.3" rx="2.4" ry="2.2" transform="rotate(0 301.7 723.3)" fill="#46301a"/>
<line x1="121.5" y1="127" x2="132.4" y2="151.8" stroke="#22170c" stroke-width="1.5" stroke-linecap="round"/>
<polygon points="136,160 129.1,152.1 132.6,152.2 134.8,149.6" fill="#22170c" stroke="#22170c" stroke-width="0.375" stroke-linejoin="round"/>
<line x1="401.7" y1="125" x2="398" y2="151.1" stroke="#22170c" stroke-width="1.5" stroke-linecap="round"/>
<polygon points="396.7,160 395,149.7 397.9,151.6 401.2,150.5" fill="#22170c" stroke="#22170c" stroke-width="0.375" stroke-linejoin="round"/>
<line x1="477" y1="290" x2="477" y2="313" stroke="#22170c" stroke-width="1.5" stroke-linecap="round"/>
<polygon points="477,322 473.9,312 477,313.5 480.1,312" fill="#22170c" stroke="#22170c" stroke-width="0.375" stroke-linejoin="round"/>
<line x1="75" y1="394" x2="89.5" y2="408.6" stroke="#22170c" stroke-width="1.5" stroke-linecap="round"/>
<polygon points="95.8,415 86.6,410.1 89.8,409 91,405.7" fill="#22170c" stroke="#22170c" stroke-width="0.375" stroke-linejoin="round"/>
<line x1="264" y1="382" x2="259.4" y2="401.2" stroke="#22170c" stroke-width="1.5" stroke-linecap="round"/>
<polygon points="257.3,410 256.6,399.6 259.3,401.7 262.6,401" fill="#22170c" stroke="#22170c" stroke-width="0.375" stroke-linejoin="round"/>
<line x1="461" y1="393" x2="456.7" y2="406.4" stroke="#22170c" stroke-width="1.5" stroke-linecap="round"/>
<polygon points="454,415 454.1,404.5 456.6,406.9 460,406.4" fill="#22170c" stroke="#22170c" stroke-width="0.375" stroke-linejoin="round"/>
<line x1="463" y1="503.3" x2="437" y2="503.3" stroke="#22170c" stroke-width="1.5" stroke-linecap="round"/>
<polygon points="428,503.3 438,500.2 436.5,503.3 438,506.4" fill="#22170c" stroke="#22170c" stroke-width="0.375" stroke-linejoin="round"/>
<line x1="395" y1="546.7" x2="375.6" y2="544" stroke="#22170c" stroke-width="1.5" stroke-linecap="round"/>
<polygon points="366.7,542.7 377,541 375.1,543.9 376.2,547.2" fill="#22170c" stroke="#22170c" stroke-width="0.375" stroke-linejoin="round"/>
<line x1="560.8" y1="545" x2="542.2" y2="580.3" stroke="#22170c" stroke-width="1.5" stroke-linecap="round"/>
<polygon points="538,588.3 539.9,578 542,580.8 545.4,580.9" fill="#22170c" stroke="#22170c" stroke-width="0.375" stroke-linejoin="round"/>
<line x1="61.3" y1="597" x2="67" y2="616.4" stroke="#22170c" stroke-width="1.5" stroke-linecap="round"/>
<polygon points="69.5,625 63.7,616.3 67.1,616.8 69.7,614.5" fill="#22170c" stroke="#22170c" stroke-width="0.375" stroke-linejoin="round"/>
<line x1="186.3" y1="659.3" x2="195.7" y2="672.2" stroke="#22170c" stroke-width="1.5" stroke-linecap="round"/>
<polygon points="201,679.5 192.6,673.2 196,672.6 197.6,669.6" fill="#22170c" stroke="#22170c" stroke-width="0.375" stroke-linejoin="round"/>
<line x1="313" y1="677" x2="343.1" y2="685.8" stroke="#22170c" stroke-width="1.5" stroke-linecap="round"/>
<polygon points="351.7,688.3 341.2,688.5 343.5,685.9 343,682.5" fill="#22170c" stroke="#22170c" stroke-width="0.375" stroke-linejoin="round"/>
<line x1="281.7" y1="697.3" x2="308" y2="704.8" stroke="#22170c" stroke-width="1.5" stroke-linecap="round"/>
<polygon points="316.7,707.3 306.2,707.5 308.5,705 307.9,701.6" fill="#22170c" stroke="#22170c" stroke-width="0.375" stroke-linejoin="round"/>
<line x1="250.5" y1="728.3" x2="285.5" y2="729.4" stroke="#22170c" stroke-width="1.5" stroke-linecap="round"/>
<polygon points="294.5,729.7 284.4,732.5 286,729.4 284.6,726.3" fill="#22170c" stroke="#22170c" stroke-width="0.375" stroke-linejoin="round"/>
<line x1="550.5" y1="627" x2="532.8" y2="616.6" stroke="#22170c" stroke-width="1.5" stroke-linecap="round"/>
<polygon points="525,612 535.2,614.4 532.3,616.3 532,619.7" fill="#22170c" stroke="#22170c" stroke-width="0.375" stroke-linejoin="round"/>
<line x1="520.5" y1="643.5" x2="504.8" y2="629.9" stroke="#22170c" stroke-width="1.5" stroke-linecap="round"/>
<polygon points="498,624 507.6,628.2 504.4,629.6 503.5,632.9" fill="#22170c" stroke="#22170c" stroke-width="0.375" stroke-linejoin="round"/>
<line x1="505.5" y1="663" x2="484.1" y2="646.1" stroke="#22170c" stroke-width="1.5" stroke-linecap="round"/>
<polygon points="477,640.5 486.8,644.3 483.7,645.8 482.9,649.1" fill="#22170c" stroke="#22170c" stroke-width="0.375" stroke-linejoin="round"/>
<line x1="471" y1="684" x2="454.3" y2="663.9" stroke="#22170c" stroke-width="1.5" stroke-linecap="round"/>
<polygon points="448.5,657 457.3,662.7 453.9,663.5 452.5,666.7" fill="#22170c" stroke="#22170c" stroke-width="0.375" stroke-linejoin="round"/>
<line x1="441" y1="691.5" x2="430.6" y2="680.1" stroke="#22170c" stroke-width="1.5" stroke-linecap="round"/>
<polygon points="424.5,673.5 433.5,678.8 430.2,679.8 429,683" fill="#22170c" stroke="#22170c" stroke-width="0.375" stroke-linejoin="round"/>
<line x1="411.7" y1="708.3" x2="402.1" y2="695.5" stroke="#22170c" stroke-width="1.5" stroke-linecap="round"/>
<polygon points="396.7,688.3 405.2,694.4 401.8,695.1 400.2,698.2" fill="#22170c" stroke="#22170c" stroke-width="0.375" stroke-linejoin="round"/>
<text x="112.5" y="119.5" font-size="13.6" font-weight="bold" fill="#22170c">15</text>
<text x="392.5" y="115" font-size="13.6" font-weight="bold" fill="#22170c">13</text>
<text x="471.8" y="281" font-size="13.6" font-weight="bold" fill="#22170c">12</text>
<text x="63.3" y="388.7" font-size="13.6" font-weight="bold" fill="#22170c">18</text>
<text x="259.4" y="375.5" font-size="13.6" font-weight="bold" fill="#22170c">14</text>
<text x="456" y="388" font-size="13.6" font-weight="bold" fill="#22170c">17</text>
<text x="557.5" y="402" font-size="13.6" font-weight="bold" fill="#22170c">19</text>
<text x="471.7" y="508" font-size="13.6" font-weight="bold" fill="#22170c">16</text>
<text x="405" y="548.3" font-size="13.6" font-weight="bold" fill="#22170c">11</text>
<text x="561" y="538" font-size="13.6" font-weight="bold" fill="#22170c">2</text>
<text x="53" y="592.5" font-size="13.6" font-weight="bold" fill="#22170c">21</text>
<text x="177" y="655" font-size="13.6" font-weight="bold" fill="#22170c">20</text>
<text x="297" y="677" font-size="13.6" font-weight="bold" fill="#22170c">1</text>
<text x="267" y="697.8" font-size="13.6" font-weight="bold" fill="#22170c">4</text>
<text x="233" y="731.5" font-size="13.6" font-weight="bold" fill="#22170c">8</text>
<text x="555" y="637.5" font-size="13.6" font-weight="bold" fill="#22170c">9</text>
<text x="526.5" y="658.5" font-size="13.6" font-weight="bold" fill="#22170c">3</text>
<text x="513" y="678.6" font-size="13.6" font-weight="bold" fill="#22170c">6</text>
<text x="475.5" y="700.5" font-size="13.6" font-weight="bold" fill="#22170c">5</text>
<text x="444" y="705" font-size="13.6" font-weight="bold" fill="#22170c">7</text>
<text x="410" y="727" font-size="13.6" font-weight="bold" fill="#22170c">10</text>
<polyline points="490.7,725 490.7,714 560,714 560,741 490.7,741 490.7,733" fill="none" stroke="#8a7a68" stroke-width="0.9" stroke-linejoin="round" stroke-linecap="round"/>
<text x="36 82.5 130.5 188 202 236.5 276 306 339 374 413 419.7 454.5" y="458.5" font-size="55" font-weight="bold" font-family="Liberation Sans" font-style="italic" fill="#fff" fill-opacity="0.8" stroke="#3e2e1e" stroke-width="1.0">WWW.CQKSGS.CO</text>
<text transform="translate(493 0) scale(1.15 1)" x="0" y="458.5" font-size="55" font-weight="bold" font-family="Liberation Sans" font-style="italic" fill="#fff" fill-opacity="0.8" stroke="#3e2e1e" stroke-width="1.0" stroke-width="0.9">M</text>
<text x="307" y="730" font-size="34" font-weight="bold" font-family="Liberation Sans" font-style="italic" fill="#fff" fill-opacity="0.8" stroke="#3e2e1e" stroke-width="1.0" textLength="284" lengthAdjust="spacingAndGlyphs">TEL:15310305680</text>
<text x="356" y="761" font-size="35" font-weight="bold" font-family="Liberation Sans" font-style="italic" fill="#fff" fill-opacity="0.8" stroke="#3e2e1e" stroke-width="1.0" textLength="239" lengthAdjust="spacingAndGlyphs">023-65830950</text>
</svg>
</body></html>
